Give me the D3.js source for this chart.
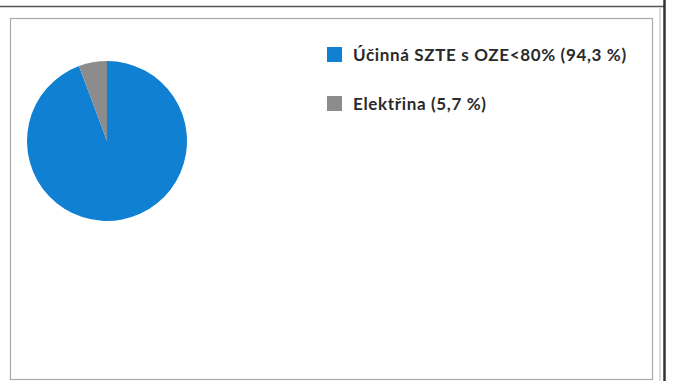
<!DOCTYPE html>
<html><head><meta charset="utf-8">
<script src="https://cdn.jsdelivr.net/npm/d3@7"></script>
<style>html,body{margin:0;padding:0;background:#fff;}</style>
</head><body>
<script>
const categories = ["Účinná SZTE s OZE<80%", "Elektřina"];
const values = [94.3, 5.7];
const labels = ["Účinná SZTE s OZE<80% (94,3 %)", "Elektřina (5,7 %)"];
const colors = ["#0f80d2", "#8c8c8c"];

const W = 673, H = 381;
const svg = d3.select("body").append("svg").attr("width", W).attr("height", H);

// outer frame lines (scanned page)
svg.append("line").attr("x1", 0).attr("x2", 665).attr("y1", 6.5).attr("y2", 6.5)
  .attr("stroke", "#555").attr("stroke-width", 1.5);
svg.append("line").attr("x1", 664.5).attr("x2", 664.5).attr("y1", 0).attr("y2", H)
  .attr("stroke", "#333").attr("stroke-width", 2.5);
svg.append("line").attr("x1", 660).attr("x2", 660).attr("y1", 8).attr("y2", H)
  .attr("stroke", "#bbb").attr("stroke-width", 1);
// inner chart box
svg.append("rect").attr("x", 10.5).attr("y", 18.5).attr("width", 642).attr("height", 361)
  .attr("fill", "none").attr("stroke", "#aaa").attr("stroke-width", 1.2);

const data = categories.map((c, i) => ({ cat: c, value: values[i], label: labels[i], color: colors[i] }));

const pie = d3.pie().value(d => d.value).sort(null);
const arc = d3.arc().innerRadius(0).outerRadius(80);
const g = svg.append("g").attr("transform", "translate(107,141)");
g.selectAll("path").data(pie(data)).enter().append("path")
  .attr("d", arc).attr("fill", d => d.data.color);

const leg = svg.append("g").attr("transform", "translate(327,47)");
const items = leg.selectAll("g").data(data).enter().append("g")
  .attr("transform", (d, i) => `translate(0,${i * 49})`);
items.append("rect").attr("width", 15).attr("height", 15).attr("fill", d => d.color);
items.append("text").attr("x", 26).attr("y", 8).attr("dy", "0.35em")
  .attr("font-family", "Lato, sans-serif").attr("font-weight", "bold")
  .attr("font-size", 17).attr("letter-spacing", 0.65).attr("fill", "#2a2a2a").text(d => d.label);
</script>
</body></html>
